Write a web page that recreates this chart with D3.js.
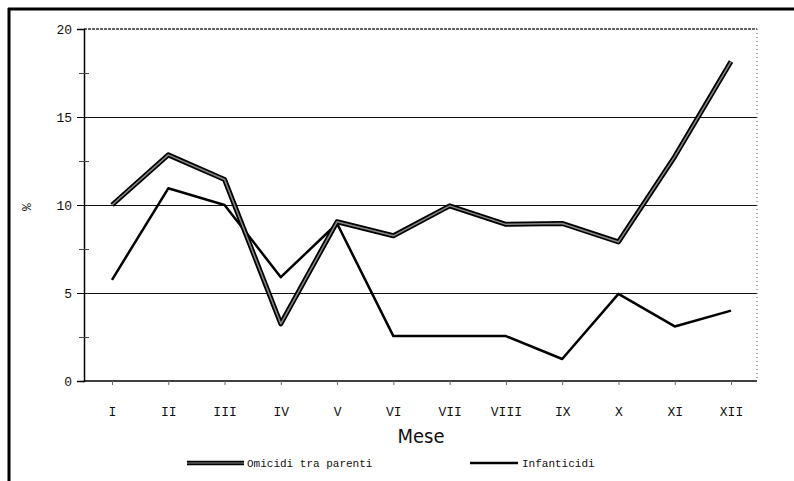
<!DOCTYPE html>
<html>
<head>
  <meta charset="utf-8">
  <script type="text/javascript" src="https://cdn.jsdelivr.net/npm/d3@7"></script>
  <style>
    body { margin: 0; background: #fff; }
  </style>
</head>
<body>
<div id="viz"></div>
<script type="text/javascript">
  // mesi e valori (%)
  var months = ["I","II","III","IV","V","VI","VII","VIII","IX","X","XI","XII"];
  var omicidi = [10.0, 12.85, 11.45, 3.25, 9.05, 8.25, 9.95, 8.9, 8.95, 7.9, 12.75, 18.15];
  var infanticidi = [5.75, 10.95, 10.0, 5.9, 8.95, 2.55, 2.55, 2.55, 1.25, 4.95, 3.1, 4.0];
  var yTicks = [0, 5, 10, 15, 20];
  var yMinor = [2.5, 7.5, 12.5, 17.5];

  var W = 794, H = 481;
  var pLeft = 84, pRight = 757, pTop = 29, pBottom = 381;

  var svg = d3.select("#viz").append("svg")
    .attr("width", W).attr("height", H);

  svg.append("rect").attr("width", W).attr("height", H).attr("fill", "#fff");

  // cornice esterna (solo alto e sinistra)
  svg.append("line").attr("x1", 8).attr("x2", W).attr("y1", 9).attr("y2", 9)
    .attr("stroke", "#000").attr("stroke-width", 3);
  svg.append("line").attr("x1", 9).attr("x2", 9).attr("y1", 8).attr("y2", H)
    .attr("stroke", "#000").attr("stroke-width", 3);

  var x = d3.scalePoint().domain(months).range([112, 731]);
  var y = d3.scaleLinear().domain([0, 20]).range([pBottom, pTop]);

  // griglia
  svg.append("g").selectAll("line")
    .data([5, 10, 15])
    .enter().append("line")
    .attr("x1", pLeft).attr("x2", pRight)
    .attr("y1", function(d){ return y(d) + 0.5; })
    .attr("y2", function(d){ return y(d) + 0.5; })
    .attr("stroke", "#111").attr("stroke-width", 1)
    .attr("shape-rendering", "crispEdges");

  // bordo superiore e destro tratteggiati
  svg.append("line").attr("x1", pLeft).attr("x2", pRight).attr("y1", y(20)).attr("y2", y(20))
    .attr("stroke", "#333").attr("stroke-width", 1.3).attr("stroke-dasharray", "3,1");
  svg.append("line").attr("x1", pRight).attr("x2", pRight).attr("y1", y(20)).attr("y2", y(0))
    .attr("stroke", "#555").attr("stroke-width", 1).attr("stroke-dasharray", "1,3");

  // asse Y
  var yAxis = svg.append("g").attr("transform", "translate(" + pLeft + ",0)")
    .call(d3.axisLeft(y).tickValues(yTicks).tickSize(7).tickPadding(5));
  yAxis.select(".domain").attr("stroke", "#000").attr("stroke-width", 1.5);
  yAxis.selectAll("text").attr("font-family", "Liberation Mono, monospace")
    .attr("font-size", 13).attr("fill", "#111");

  svg.append("g").attr("transform", "translate(" + (pLeft + 5) + ",0)")
    .call(d3.axisLeft(y).tickValues(yMinor).tickSizeInner(10).tickSizeOuter(0).tickFormat(""))
    .call(function(g){ g.select(".domain").remove(); })
    .selectAll("line").attr("stroke", "#444");

  // asse X
  var xAxis = svg.append("g").attr("transform", "translate(0," + pBottom + ")")
    .call(d3.axisBottom(x).tickSize(4).tickPadding(22));
  xAxis.select(".domain").attr("d", "M" + pLeft + ",0H" + pRight)
    .attr("stroke", "#000").attr("stroke-width", 1.5);
  xAxis.selectAll("line").attr("stroke", "#666");
  xAxis.selectAll("text").attr("font-family", "Liberation Mono, monospace")
    .attr("font-size", 13).attr("fill", "#111");

  // titoli assi
  svg.append("text").attr("x", 421).attr("y", 443)
    .attr("text-anchor", "middle")
    .attr("font-family", "DejaVu Sans Condensed, DejaVu Sans, sans-serif")
    .attr("font-size", 20).attr("fill", "#111").text("Mese");

  svg.append("text")
    .attr("transform", "translate(31,207) rotate(-90)")
    .attr("text-anchor", "middle")
    .attr("font-family", "Liberation Mono, monospace")
    .attr("font-size", 13).attr("fill", "#111").text("%");

  // linee
  var line = function(vals) {
    return d3.line()
      .x(function(d, i){ return x(months[i]); })
      .y(function(d){ return y(d); })(vals);
  };

  svg.append("path").attr("d", line(infanticidi))
    .attr("fill", "none").attr("stroke", "#000").attr("stroke-width", 2.5)
    .attr("stroke-linejoin", "round");

  svg.append("path").attr("d", line(omicidi))
    .attr("fill", "none").attr("stroke", "#000").attr("stroke-width", 5)
    .attr("stroke-linejoin", "round");
  svg.append("path").attr("d", line(omicidi))
    .attr("fill", "none").attr("stroke", "#888").attr("stroke-width", 1.5)
    .attr("stroke-linejoin", "round");

  // legenda
  var lg = svg.append("g").attr("font-family", "Liberation Mono, monospace")
    .attr("font-size", 11).attr("fill", "#111");
  lg.append("line").attr("x1", 187).attr("x2", 244).attr("y1", 463).attr("y2", 463)
    .attr("stroke", "#000").attr("stroke-width", 4.5);
  lg.append("line").attr("x1", 187).attr("x2", 244).attr("y1", 463).attr("y2", 463)
    .attr("stroke", "#888").attr("stroke-width", 1.2);
  lg.append("text").attr("x", 247).attr("y", 467).text("Omicidi tra parenti");
  lg.append("line").attr("x1", 470).attr("x2", 518).attr("y1", 463).attr("y2", 463)
    .attr("stroke", "#000").attr("stroke-width", 2.5);
  lg.append("text").attr("x", 522).attr("y", 467).text("Infanticidi");
</script>
</body>
</html>
